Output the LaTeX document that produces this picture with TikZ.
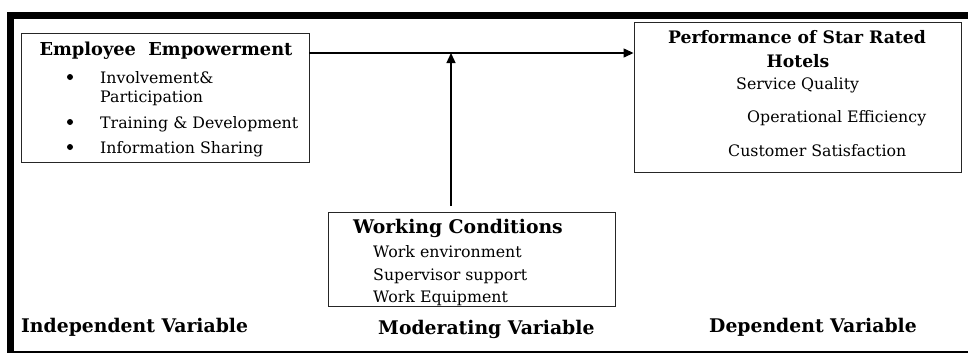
\documentclass[tikz,border=0pt]{standalone}
\usepackage{fontspec}
\setmainfont{DejaVu Serif}
\usetikzlibrary{arrows.meta}
\begin{document}
\begin{tikzpicture}[x=1pt,y=-1pt,
  box/.style={draw=black!85, line width=0.9pt, inner sep=0, minimum width=#1},
  head/.style={font=\bfseries\fontsize{17.2}{20}\selectfont, anchor=base, inner sep=0},
  item/.style={font=\fontsize{15.8}{18}\selectfont, anchor=base west, inner sep=0},
  dot/.style={circle, fill=black, inner sep=0, minimum size=6pt},
  varlabel/.style={font=\bfseries\fontsize{18.8}{21}\selectfont, anchor=base west, inner sep=0},
  conn/.style={line width=1.3pt, -{Triangle[length=10pt,width=9pt]}}]
\useasboundingbox (0,0) rectangle (968,354);
% outer frame
\fill (7,12) rectangle (968,19);
\fill (7,12) rectangle (14,353);
\draw[line width=1.4pt] (7,352) -- (968,352);
% boxes
\node[box=288pt, minimum height=129pt] (iv) at (165,97.5) {};
\node[box=327pt, minimum height=150pt] (dv) at (797.5,97) {};
\node[box=287pt, minimum height=94pt] (mv) at (471.5,259) {};
% independent box text
\node[head, font=\bfseries\fontsize{17.8}{20}\selectfont] (ivh) at (166,55) {Employee~~Empowerment};
\node[dot] (b1) at (70,77) {};
\node[item] (t1) at (100,83) {Involvement\&};
\node[item] (t1b) at (100,102) {Participation};
\node[dot] (b2) at (70,122) {};
\node[item] (t2) at (100,128) {Training \& Development};
\node[dot] (b3) at (70,147) {};
\node[item] (t3) at (100,153) {Information Sharing};
% dependent box text
\node[head] (dvh1) at (797,43) {Performance of Star Rated};
\node[head] (dvh2) at (798,67) {Hotels};
\node[item] (d1) at (736,89) {Service Quality};
\node[item] (d2) at (747,122) {Operational Efficiency};
\node[item] (d3) at (728,156) {Customer Satisfaction};
% moderating box text
\node[head, anchor=base west, font=\bfseries\fontsize{18.8}{21}\selectfont] (mvh) at (353,233) {Working Conditions};
\node[item] (m1) at (373,257) {Work environment};
\node[item] (m2) at (373,280) {Supervisor support};
\node[item] (m3) at (373,302) {Work Equipment};
% variable labels
\node[varlabel] (l1) at (21,332) {Independent Variable};
\node[varlabel] (l2) at (378,334) {Moderating Variable};
\node[varlabel] (l3) at (709,332) {Dependent Variable};
% connectors
\coordinate (hs) at (iv.east |- 0,53);
\coordinate (he) at (dv.west |- 0,53);
\coordinate (vs) at (451,206);
\coordinate (ve) at (451,53);
\draw[conn] (hs) -- (he);
\draw[conn] (vs) -- (ve);
\end{tikzpicture}
\end{document}
